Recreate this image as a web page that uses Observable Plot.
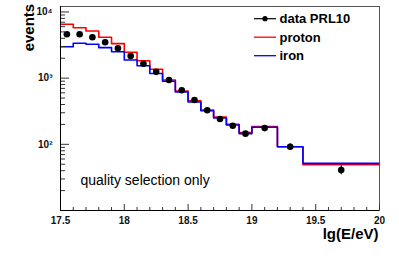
<!DOCTYPE html>
<html>
<head>
<meta charset="utf-8">
<script src="https://cdn.jsdelivr.net/npm/d3@7"></script>
<script src="https://cdn.jsdelivr.net/npm/@observablehq/plot@0.6"></script>
<style>
  body { margin: 0; background: #fff; }
  #chart { position: relative; width: 399px; height: 270px; }
  svg { font-family: "Liberation Sans", Arial, Helvetica, sans-serif; }
</style>
</head>
<body>
<div id="chart"></div>
<script>
// ---- data ----
const binEdges = [17.5, 17.6, 17.7, 17.8, 17.9, 18.0, 18.1, 18.2, 18.3, 18.4, 18.5, 18.6, 18.7, 18.8, 18.9, 19.0, 19.2, 19.4, 20.0];
const dataX = [17.55, 17.65, 17.75, 17.85, 17.95, 18.05, 18.15, 18.25, 18.35, 18.45, 18.55, 18.65, 18.75, 18.85, 18.95, 19.1, 19.3, 19.7];
const dataY = [4600, 4600, 4150, 3480, 2830, 2160, 1650, 1245, 938, 655, 468, 327, 241, 191, 145, 176, 92, 41];
const dataErr = [68, 68, 64, 59, 53, 46, 41, 35, 31, 26, 22, 18, 16, 14, 12, 13, 10, 6.4];
const proton = [6520, 5790, 5160, 4150, 3320, 2460, 1835, 1360, 938, 640, 456, 330, 259, 200, 150, 185, 92, 49.2];
const iron = [2990, 3360, 3250, 2890, 2510, 1880, 1540, 1175, 896, 618, 436, 322, 250, 196, 145, 181, 92, 51.6];
const xMajorTicks = [17.5, 18, 18.5, 19, 19.5, 20];
const xMinorTicks = [17.6, 17.7, 17.8, 17.9, 18.1, 18.2, 18.3, 18.4, 18.6, 18.7, 18.8, 18.9, 19.1, 19.2, 19.3, 19.4, 19.6, 19.7, 19.8, 19.9];
const yMajorTicks = [100, 1000, 10000];
const yMajorLabels = ["10\u00b2", "10\u00b3", "10\u2074"];
const yMinorTicks = [20, 30, 40, 50, 60, 70, 80, 90, 200, 300, 400, 500, 600, 700, 800, 900, 2000, 3000, 4000, 5000, 6000, 7000, 8000, 9000];
const legendLabels = ["data PRL10", "proton", "iron"];
const legendColors = ["black", "red", "blue"];
const noteText = "quality selection only";
const xTitle = "lg(E/eV)";
const yTitle = "events";

// ---- build tables ----
const stepRows = (vals) => binEdges.map((e, i) => ({x: e, y: vals[Math.min(i, vals.length - 1)]}));
const points = dataX.map((x, i) => ({x, y: dataY[i], lo: dataY[i] - dataErr[i], hi: dataY[i] + dataErr[i]}));
const font = "Liberation Sans, Arial, Helvetica, sans-serif";

const chart = Plot.plot({
  width: 399,
  height: 270,
  marginLeft: 60,
  marginRight: 20,
  marginTop: 6,
  marginBottom: 60,
  style: {fontFamily: font, background: "white"},
  x: {domain: [17.5, 20]},
  y: {type: "log", domain: [10, 12100]},
  marks: [
    Plot.line(stepRows(proton), {x: "x", y: "y", curve: "step-after", stroke: "red", strokeWidth: 1.6}),
    Plot.line(stepRows(iron), {x: "x", y: "y", curve: "step-after", stroke: "blue", strokeWidth: 1.6}),
    Plot.ruleX(points, {x: "x", y1: "lo", y2: "hi", stroke: "black", strokeWidth: 1.2}),
    Plot.dot(points, {x: "x", y: "y", r: 3.3, fill: "black", stroke: "none"}),
    Plot.frame({stroke: "#555"}),
    // x axis ticks (inside)
    Plot.axisX({ticks: xMajorTicks, tickSize: -6, tickFormat: () => "", label: null, stroke: "#333"}),
    Plot.axisX({ticks: xMinorTicks, tickSize: -3, tickFormat: () => "", label: null, stroke: "#333"}),
    Plot.axisX({ticks: xMajorTicks, tickSize: 0, tickPadding: 6, tickFormat: d => String(d), label: null,
      fontSize: 10, fontWeight: "bold", fill: "#111"}),
    // y axis ticks (inside)
    Plot.axisY({ticks: yMajorTicks, tickSize: -9, tickFormat: () => "", label: null, stroke: "#333"}),
    Plot.axisY({ticks: yMinorTicks, tickSize: -5, tickFormat: () => "", label: null, stroke: "#333"}),
    Plot.axisY({ticks: yMajorTicks, tickSize: 0, tickPadding: 8, tickFormat: (d) => yMajorLabels[yMajorTicks.indexOf(d)], label: null,
      fontSize: 10, fontWeight: "bold", fill: "#111"}),
    Plot.ruleX([17.5], {stroke: "black"}),
    Plot.ruleY([10], {stroke: "black"}),
    // titles & note
    Plot.text([yTitle], {text: d => d, frameAnchor: "top-left", rotate: -90, textAnchor: "end", dx: -37.5, dy: -2.7,
      fontSize: 15, fontWeight: "bold", fill: "black"}),
    Plot.text([xTitle], {text: d => d, frameAnchor: "bottom-right", textAnchor: "end", dx: -1, dy: 28,
      fontSize: 15, fontWeight: "bold", fill: "black"}),
    Plot.text([noteText], {text: d => d, frameAnchor: "bottom-left", textAnchor: "start", dx: 20, dy: -26,
      fontSize: 14, fill: "black"})
  ]
});

document.getElementById("chart").appendChild(chart);

// ---- legend (inside the plot frame, top-right) ----
const svg = d3.select(chart);
const lg = svg.append("g").attr("font-family", font).attr("text-anchor", "start");
const rowY = [18.7, 37.2, 55.7];
legendLabels.forEach((lab, i) => {
  lg.append("line").attr("x1", 254).attr("x2", 276).attr("y1", rowY[i]).attr("y2", rowY[i])
    .attr("stroke", legendColors[i]).attr("stroke-width", i === 0 ? 1.2 : 1.3);
  if (i === 0) lg.append("circle").attr("cx", 265).attr("cy", rowY[i]).attr("r", 2.6).attr("fill", "black");
  lg.append("text").attr("x", 279.5).attr("y", rowY[i]).attr("dy", "0.34em").attr("text-anchor", "start")
    .attr("font-size", 13).attr("font-weight", "bold").attr("fill", "black").text(lab);
});
</script>
</body>
</html>
